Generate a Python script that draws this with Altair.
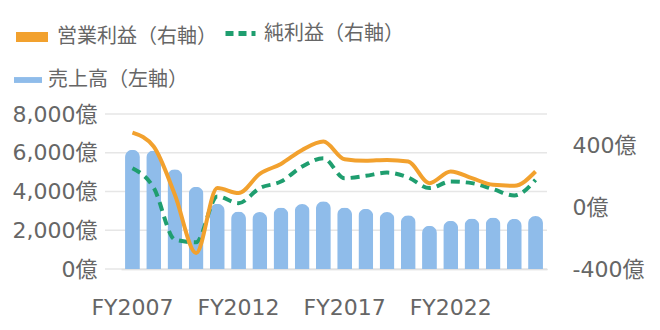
import altair as alt
import pandas as pd

years = [f"FY{y}" for y in range(2007, 2027)]
sales = [6150, 6120, 5150, 4250, 3370, 2970, 2940, 3180, 3350, 3500,
         3180, 3110, 2940, 2780, 2230, 2490, 2610, 2660, 2590, 2730]
op_profit = [480, 390, 79, -297, 122, 90, 214, 278, 368, 422,
             308, 298, 304, 293, 154, 229, 186, 143, 137, 229]
net_profit = [250, 125, -210, -228, 68, 25, 122, 164, 261, 315,
              186, 201, 222, 190, 122, 164, 154, 115, 74, 175]
left_ticks = [0, 2000, 4000, 6000, 8000]
right_ticks = [-400, 0, 400]
x_labels = ["FY2007", "FY2012", "FY2017", "FY2022"]

S_SALES = "売上高（左軸）"
S_OP = "営業利益（右軸）"
S_NET = "純利益（右軸）"

df = pd.DataFrame({"year": years, "sales": sales, "op": op_profit, "net": net_profit})
grid_df = pd.DataFrame({"v": left_ticks})

AFONT = "'DejaVu Sans', 'Noto Sans CJK JP'"
LFONT = "'Noto Sans CJK JP'"
TXT = "#666666"
BLUE = "#8FBCEA"
ORANGE = "#F2A12E"
GREEN = "#1F9E6F"
W, H = 426, 155
AX = 22
LG = 20

xenc = alt.X("year:N", sort=years,
             scale=alt.Scale(paddingInner=0.3, paddingOuter=0.19),
             axis=alt.Axis(title=None, values=x_labels, labelAngle=0, ticks=False,
                           domain=True, domainColor="#d4d4d4", domainWidth=1.5,
                           labelFontSize=AX, labelColor=TXT, labelFont=AFONT,
                           labelPadding=28, grid=False))

grid = alt.Chart(grid_df).mark_rule(color="#e6e6e6", strokeWidth=1.5).encode(
    y=alt.Y("v:Q", scale=alt.Scale(domain=[0, 8000], nice=False), axis=None),
    x=alt.value(-16), x2=alt.value(W),
)

bars = alt.Chart(df).transform_calculate(s=f"'{S_SALES}'").mark_bar(
    cornerRadiusTopLeft=7.5, cornerRadiusTopRight=7.5
).encode(
    x=xenc,
    y=alt.Y("sales:Q", scale=alt.Scale(domain=[0, 8000], nice=False),
            axis=alt.Axis(title=None, orient="left", values=left_ticks,
                          labelExpr="format(datum.value, ',') + '億'",
                          grid=False, domain=False, ticks=False,
                          labelFontSize=AX, labelColor=TXT, labelFont=AFONT,
                          labelPadding=24)),
    color=alt.Color("s:N", scale=alt.Scale(domain=[S_SALES], range=[BLUE]),
                    legend=alt.Legend(title=None, orient="none", legendX=-107, legendY=-48,
                                      symbolType="M-1,-0.21H1V0.21H-1Z", symbolSize=784,
                                      symbolFillColor=BLUE, symbolStrokeWidth=0,
                                      labelFontSize=LG, labelColor=TXT, labelFont=LFONT,
                                      labelOffset=6, labelLimit=400)),
)

rscale = alt.Scale(domain=[-400, 600], nice=False)

green = alt.Chart(df).transform_calculate(s=f"'{S_NET}'").mark_line(
    strokeWidth=4, strokeDash=[9, 6], interpolate="monotone"
).encode(
    x=xenc,
    y=alt.Y("net:Q", scale=rscale, axis=None),
    color=alt.Color("s:N", scale=alt.Scale(domain=[S_NET], range=[GREEN]),
                    legend=alt.Legend(title=None, orient="none", legendX=102, legendY=-98,
                                      symbolType="stroke", symbolSize=900,
                                      symbolStrokeWidth=5, symbolDash=[8, 5],
                                      labelFontSize=LG, labelColor=TXT, labelFont=LFONT,
                                      labelOffset=6, labelLimit=400)),
)

orange = alt.Chart(df).transform_calculate(s=f"'{S_OP}'").mark_line(
    strokeWidth=4, interpolate="monotone"
).encode(
    x=xenc,
    y=alt.Y("op:Q", scale=rscale,
            axis=alt.Axis(title=None, orient="right", values=right_ticks,
                          labelExpr="datum.value + '億'",
                          grid=False, domain=False, ticks=False,
                          labelFontSize=AX, labelColor=TXT, labelFont=AFONT,
                          labelPadding=25)),
    color=alt.Color("s:N", scale=alt.Scale(domain=[S_OP], range=[ORANGE]),
                    legend=alt.Legend(title=None, orient="none", legendX=-110, legendY=-98,
                                      symbolType="stroke", symbolSize=1024,
                                      symbolStrokeWidth=10,
                                      labelFontSize=LG, labelColor=TXT, labelFont=LFONT,
                                      labelOffset=4, labelLimit=400)),
)

chart = alt.layer(grid, bars, green, orange).resolve_scale(
    y="independent", color="independent"
).properties(
    width=W, height=H,
    padding={"left": 121, "top": 114, "right": 113, "bottom": 61},
    autosize="none",
).configure_view(stroke=None)

chart.save("out.html", embed_options={"renderer": "svg", "actions": False})
